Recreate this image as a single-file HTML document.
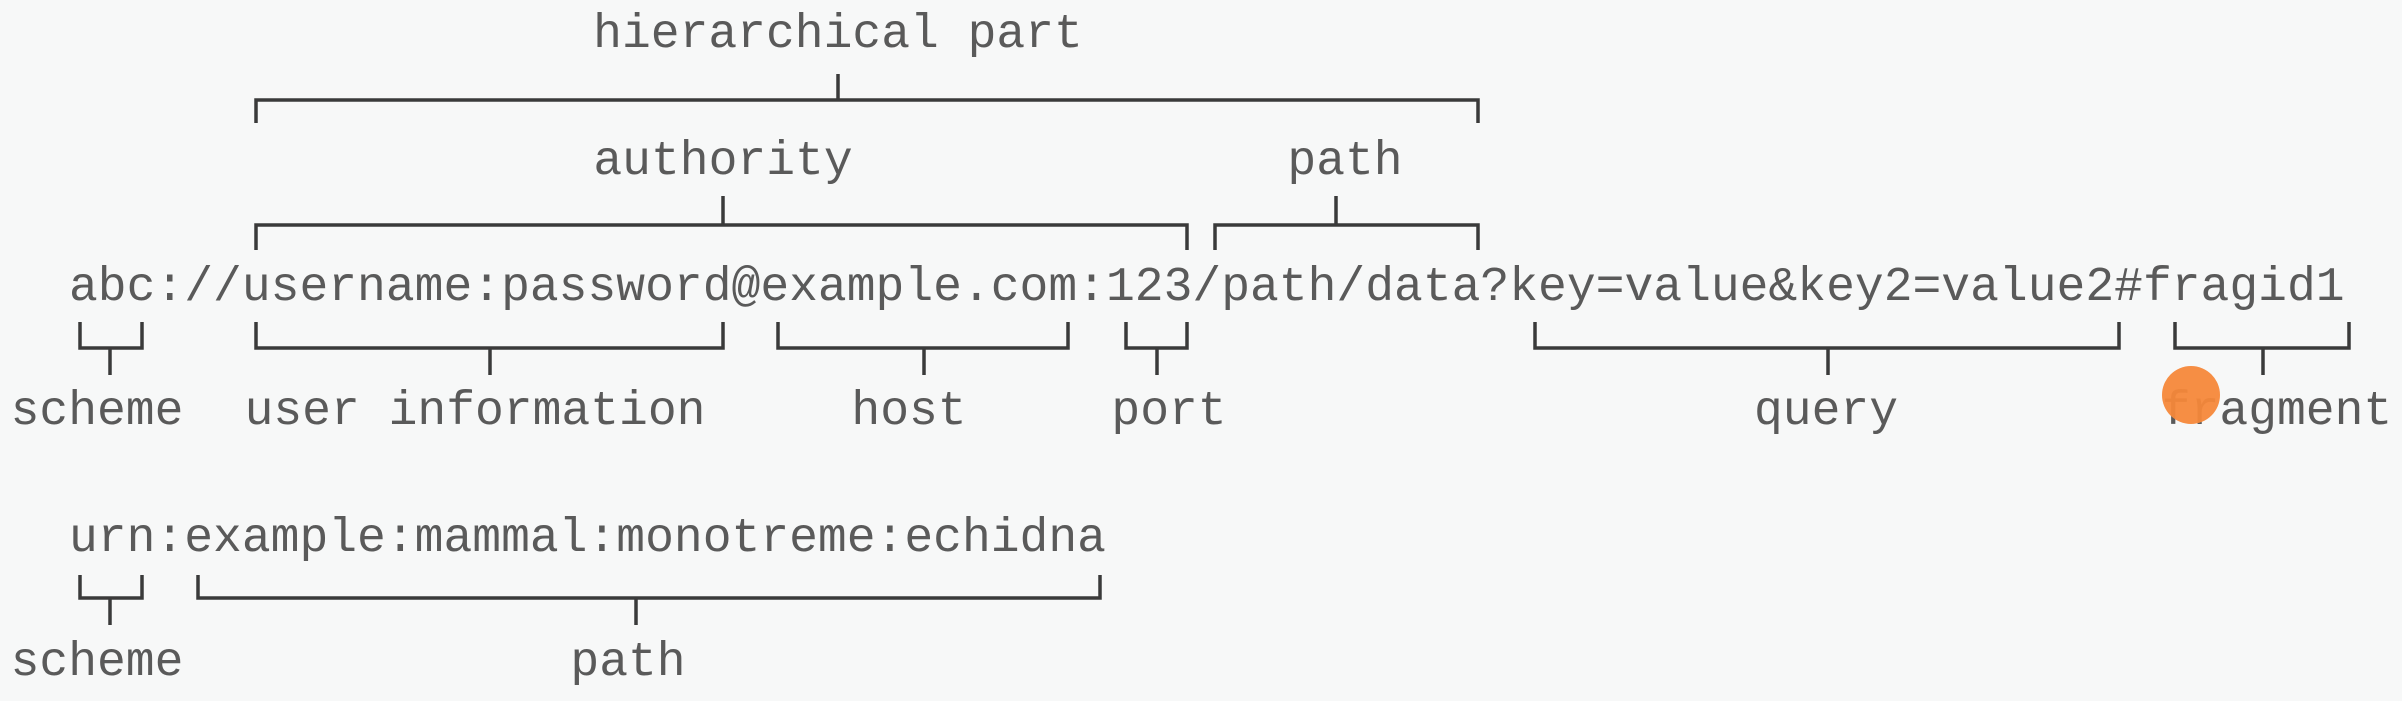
<!DOCTYPE html>
<html><head><meta charset="utf-8"><style>
html,body{margin:0;padding:0;background:#f7f8f8;}
svg{display:block}
text{font-family:"Liberation Mono",monospace;font-size:48px;fill:#5a5a5a;}
</style></head><body>
<svg width="2402" height="701" viewBox="0 0 2402 701" xmlns="http://www.w3.org/2000/svg">
<rect width="2402" height="701" fill="#f7f8f8"/>
<g fill="none" stroke="#3a3a3a" stroke-width="3.5">
<!-- hierarchical -->
<path d="M256 123 V100 H1478 V123 M838 100 V74"/>
<!-- authority -->
<path d="M256 250 V225 H1187 V250 M723 225 V196"/>
<!-- path -->
<path d="M1215 250 V225 H1478 V250 M1336 225 V196"/>
<!-- lower brackets -->
<path d="M80 322 V348 H142 V322 M110 348 V375"/>
<path d="M256 322 V348 H723 V322 M490 348 V375"/>
<path d="M778 322 V348 H1068 V322 M924 348 V375"/>
<path d="M1126 322 V348 H1187 V322 M1157 348 V375"/>
<path d="M1535 322 V348 H2119 V322 M1828 348 V375"/>
<path d="M2175 322 V348 H2349 V322 M2263 348 V375"/>
<!-- urn -->
<path d="M80 575 V598 H142 V575 M110 598 V625"/>
<path d="M198 575 V598 H1100 V575 M636 598 V625"/>
</g>
<text x="838" y="47" text-anchor="middle">hierarchical part</text>
<text x="723" y="174" text-anchor="middle">authority</text>
<text x="1345" y="174" text-anchor="middle">path</text>
<text x="69" y="300">abc://username:password@example.com:123/path/data?key=value&amp;key2=value2#fragid1</text>
<text x="97" y="424" text-anchor="middle">scheme</text>
<text x="475" y="424" text-anchor="middle">user information</text>
<text x="909" y="424" text-anchor="middle">host</text>
<text x="1169" y="424" text-anchor="middle">port</text>
<text x="1826" y="424" text-anchor="middle">query</text>
<text x="2277" y="424" text-anchor="middle">fragment</text>
<text x="69" y="551">urn:example:mammal:monotreme:echidna</text>
<text x="97" y="675" text-anchor="middle">scheme</text>
<text x="628" y="675" text-anchor="middle">path</text>
<circle cx="2191" cy="395" r="29" fill="#f5883a" opacity="0.95"/>
</svg>
</body></html>
